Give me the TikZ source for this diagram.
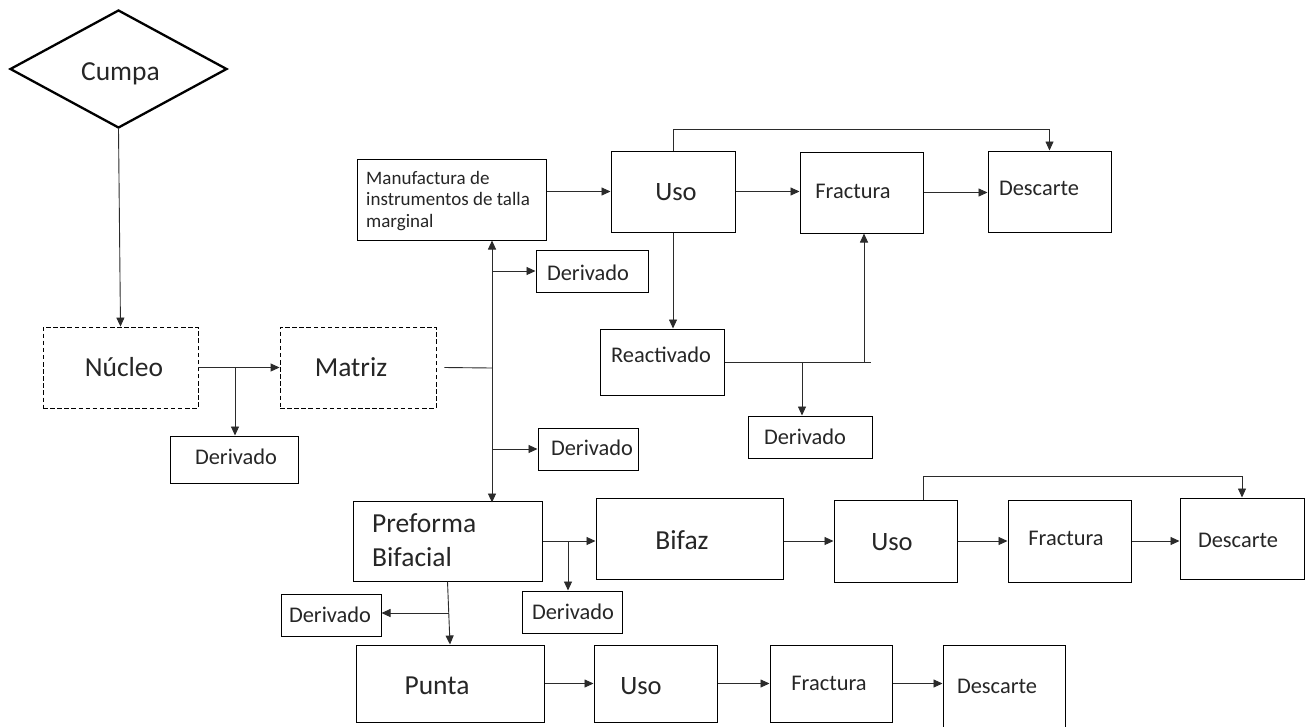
\documentclass[tikz,border=0pt]{standalone}
\usepackage{fontspec}
\setmainfont{Carlito}
\usetikzlibrary{arrows.meta,shapes.geometric}
\definecolor{ink}{HTML}{262626}
\definecolor{wire}{HTML}{2B2B2B}
\begin{document}
\begin{tikzpicture}[x=1pt,y=-1pt,
  box/.style={draw=black,line width=1pt,rectangle,inner sep=0pt},
  dbox/.style={box,dash pattern=on 4.5pt off 2.6pt,line width=0.9pt},
  big/.style={font=\fontsize{27.5}{33}\selectfont,text=ink,inner sep=0pt,text height=17.7pt,text depth=0pt},
  usot/.style={font=\fontsize{26.5}{32}\selectfont,text=ink,inner sep=0pt,text height=17pt,text depth=0pt},
  mid/.style={font=\fontsize{22.4}{27}\selectfont,text=ink,inner sep=0pt,text height=14.4pt,text depth=0pt},
  conn/.style={draw=wire,line width=0.9pt},
  arr/.style={conn,-{Triangle[length=9pt,width=8pt]}},
]
% canvas
\fill[white] (0,0) rectangle (1313,726);
\useasboundingbox (0,0) rectangle (1313,726);

% ---------- boxes ----------
\node[draw=black,diamond,line width=2.3pt,minimum width=217pt,minimum height=118pt,inner sep=0pt] (cumpa) at (118.5,69) {};
\node[dbox,minimum width=155pt,minimum height=81pt] (nucleo) at (120.5,367.5) {};
\node[dbox,minimum width=156pt,minimum height=81pt] (matriz) at (358,367.5) {};
\node[box,minimum width=128pt,minimum height=47pt] (der1) at (234,459.5) {};

\node[box,minimum width=189pt,minimum height=81pt] (manu) at (451.5,199.5) {};
\node[box,minimum width=112pt,minimum height=42pt] (der2) at (592,271) {};
\node[box,minimum width=100pt,minimum height=42pt] (der3) at (588,449) {};

\node[box,minimum width=124pt,minimum height=81pt] (usoA) at (673,191.5) {};
\node[box,minimum width=123pt,minimum height=81pt] (fracA) at (861.5,192.5) {};
\node[box,minimum width=123pt,minimum height=81pt] (descA) at (1049.5,191.5) {};
\node[box,minimum width=124pt,minimum height=66pt] (react) at (662,362) {};
\node[box,minimum width=124pt,minimum height=42pt] (der6) at (810,437) {};

\node[box,minimum width=189pt,minimum height=80pt] (pref) at (447.5,541) {};
\node[box,minimum width=187pt,minimum height=81pt] (bifaz) at (689.5,538.5) {};
\node[box,minimum width=123pt,minimum height=82pt] (usoB) at (895.5,541) {};
\node[box,minimum width=123pt,minimum height=82pt] (fracB) at (1069.5,541) {};
\node[box,minimum width=124pt,minimum height=81pt] (descB) at (1242,538.5) {};
\node[box,minimum width=100pt,minimum height=42pt] (der5) at (572,612) {};
\node[box,minimum width=100pt,minimum height=42pt] (der4) at (331,615) {};

\node[box,minimum width=188pt,minimum height=77pt] (punta) at (450,683.5) {};
\node[box,minimum width=123pt,minimum height=77pt] (usoC) at (655.5,683.5) {};
\node[box,minimum width=122pt,minimum height=77pt] (fracC) at (831,683.5) {};
\node[box,minimum width=122pt,minimum height=83pt] (descC) at (1004,686.5) {};

% ---------- labels ----------
\node[big] (t-cumpa) at (120.5,72) {Cumpa};
\node[big] (t-nucleo) at (124,368) {Núcleo};
\node[big] (t-matriz) at (351,368) {Matriz};
\node[mid] (t-der1) at (236,457) {Derivado};
\node[anchor=west,align=left,inner sep=0pt,text=ink,font=\fontsize{19}{21.5}\selectfont] (t-manu) at (366,201)
  {Manufactura de\\instrumentos de talla\\marginal};
\node[mid] (t-der2) at (588,273) {Derivado};
\node[mid] (t-der3) at (592,448) {Derivado};
\node[usot] (t-usoA) at (676,192) {Uso};
\node[mid] (t-fracA) at (853,191) {Fractura};
\node[mid] (t-descA) at (1039,188) {Descarte};
\node[mid] (t-react) at (661,355) {Reactivado};
\node[mid] (t-der6) at (805,437) {Derivado};
\node[anchor=west,align=left,inner sep=0pt,text=ink,font=\fontsize{27.5}{34}\selectfont] (t-pref) at (372,540)
  {Preforma\\Bifacial};
\node[big] (t-bifaz) at (682,541) {Bifaz};
\node[usot] (t-usoB) at (892,542) {Uso};
\node[mid] (t-fracB) at (1066,538) {Fractura};
\node[mid] (t-descB) at (1238,540) {Descarte};
\node[mid] (t-der5) at (573,612) {Derivado};
\node[mid] (t-der4) at (330,615) {Derivado};
\node[big] (t-punta) at (437,686) {Punta};
\node[usot] (t-usoC) at (641,686) {Uso};
\node[mid] (t-fracC) at (829,683) {Fractura};
\node[mid] (t-descC) at (997,686) {Descarte};

% ---------- junction points ----------
\coordinate (jm) at (492,368);
\coordinate (jn) at (235,367.5);
\coordinate (jr) at (864,362);
\coordinate (jd) at (802,362);
\coordinate (jp) at (568,541);
\coordinate (jq) at (448.5,613);

% ---------- connectors ----------
\draw[arr] (cumpa.south) -- (nucleo.north);
\draw[arr] (nucleo.east) -- (matriz.west);
\draw[arr] (jn) -- (jn |- der1.north);

\draw[conn] ([xshift=8pt]matriz.east) -- (jm);
\draw[arr] (jm) -- (jm |- manu.south);
\draw[arr] (jm) -- ([yshift=-2pt]jm |- pref.north);
\draw[arr] (jm |- der2.west) -- (der2.west);
\draw[arr] (jm |- der3.west) -- (der3.west);

\draw[arr] (manu.east |- usoA.west) -- (usoA.west);
\draw[arr] (usoA.east) -- (usoA.east -| fracA.west);
\draw[arr] (fracA.east) -- (fracA.east -| descA.west);
\draw[arr] (usoA.north) -- ++(0,-21) -| (descA.north);
\draw[arr] (usoA.south) -- (usoA.south |- react.north);
\draw[conn] (react.east) -- ([xshift=7pt]jr);
\draw[arr] (jr) -- (jr |- fracA.south);
\draw[arr] (jd) -- (jd |- der6.north);

\draw[arr] (pref.east) -- (pref.east -| bifaz.west);
\draw[arr] (jp) -- (jp |- der5.north);
\draw[arr] (pref.south) -- (punta.north);
\draw[arr] (jq) -- (jq -| der4.east);

\draw[arr] (bifaz.east |- usoB.west) -- (usoB.west);
\draw[arr] (usoB.east) -- (fracB.west);
\draw[arr] (fracB.east) -- (fracB.east -| descB.west);
\draw[arr] ([xshift=27.5pt]usoB.north) -- ++(0,-23) -| (descB.north);

\draw[arr] (punta.east) -- (usoC.west);
\draw[arr] (usoC.east) -- (fracC.west);
\draw[arr] (fracC.east) -- (fracC.east -| descC.west);
\end{tikzpicture}
\end{document}
